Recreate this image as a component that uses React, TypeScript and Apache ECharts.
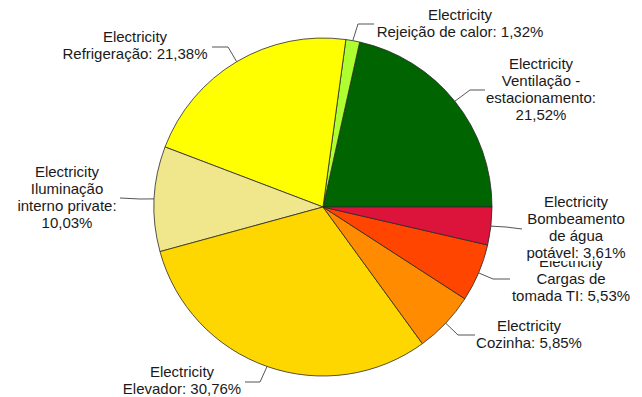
import React, { useEffect, useRef } from "react";
import * as echarts from "echarts";

// ---- data ----
const categories = [
  "Ventilação - estacionamento",
  "Rejeição de calor",
  "Refrigeração",
  "Iluminação interno private",
  "Elevador",
  "Cozinha",
  "Cargas de tomada TI",
  "Bombeamento de água potável",
];
const values = [21.52, 1.32, 21.38, 10.03, 30.76, 5.85, 5.53, 3.61];
const labelPrefix = "Electricity";
const wrappedNames = [
  "Ventilação -\nestacionamento:\n",
  "Rejeição de calor: ",
  "Refrigeração: ",
  "Iluminação\ninterno private:\n",
  "Elevador: ",
  "Cozinha: ",
  "Cargas de\ntomada TI: ",
  "Bombeamento\nde água\npotável: ",
];
const colors = [
  "#006400",
  "#ADFF2F",
  "#FFFF00",
  "#F0E68C",
  "#FFD700",
  "#FF8C00",
  "#FF4500",
  "#DC143C",
];

// ---- layout (label placement, pixels) ----
const CENTER: [number, number] = [323, 207];
const RADIUS = 169;
const labelCenters: [number, number][] = [
  [541, 89],
  [460, 23],
  [135, 45],
  [67, 197],
  [182, 380],
  [529, 334],
  [571, 278],
  [576, 227],
];
const elbows: [number, number][] = [
  [470, 90],
  [358, 24],
  [228, 47],
  [140, 199],
  [260, 382],
  [458, 335],
  [493, 279],
  [506, 227],
];
const ends: [number, number][] = [
  [485, 90],
  [374, 24],
  [212, 47],
  [120, 198],
  [245, 382],
  [475, 335],
  [510, 279],
  [522, 229],
];

function fmt(v: number) {
  return v.toFixed(2).replace(".", ",") + "%";
}

function edgePoint(i: number): [number, number] {
  const total = values.reduce((a, b) => a + b, 0);
  let before = 0;
  for (let k = 0; k < i; k++) before += values[k];
  const mid = ((before + values[i] / 2) / total) * Math.PI * 2;
  return [CENTER[0] + RADIUS * Math.cos(mid), CENTER[1] - RADIUS * Math.sin(mid)];
}

export default function App() {
  const ref = useRef<HTMLDivElement>(null);
  useEffect(() => {
    if (!ref.current) return;
    const chart = echarts.init(ref.current, undefined, { renderer: "svg" });
    chart.setOption({
      animation: false,
      backgroundColor: "#ffffff",
      series: [
        {
          type: "pie",
          center: CENTER,
          radius: RADIUS,
          startAngle: 0,
          clockwise: false,
          avoidLabelOverlap: false,
          itemStyle: { borderColor: "#2a2a2a", borderWidth: 0.8 },
          label: {
            show: true,
            position: "outside",
            color: "#1a1a1a",
            fontFamily: "Liberation Sans, Arial, sans-serif",
            fontSize: 15,
            lineHeight: 17,
            align: "center",
            formatter: (p: any) =>
              labelPrefix + "\n" + wrappedNames[p.dataIndex] + fmt(p.value),
          },
          labelLine: {
            show: true,
            lineStyle: { color: "#555555", width: 1 },
          },
          labelLayout: (params: any) => {
            const i = params.dataIndex;
            const edge = edgePoint(i);
            return {
              x: labelCenters[i][0],
              y: labelCenters[i][1],
              align: "center",
              verticalAlign: "middle",
              labelLinePoints: [edge, elbows[i], ends[i]],
            };
          },
          data: categories.map((name, i) => ({
            name,
            value: values[i],
            itemStyle: { color: colors[i] },
            label:
              i === categories.length - 1
                ? { backgroundColor: "#ffffff" }
                : undefined,
          })),
        },
      ],
    });
    return () => chart.dispose();
  }, []);
  return (
    <div
      ref={ref}
      style={{ position: "fixed", left: 0, top: 0, width: 642, height: 397 }}
    />
  );
}
